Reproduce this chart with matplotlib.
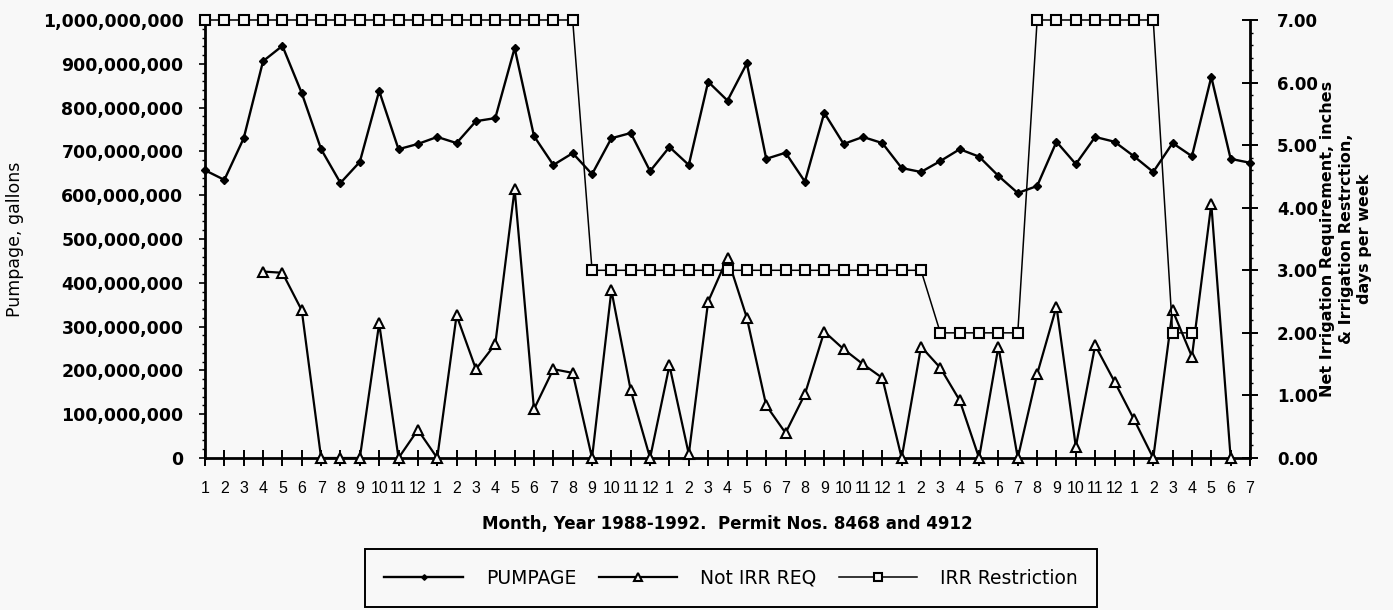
import numpy as np
import matplotlib.pyplot as plt
from matplotlib.ticker import FuncFormatter, MultipleLocator

# month labels, Jan 1988 .. Jul 1992
months = [1, 2, 3, 4, 5, 6, 7, 8, 9, 10, 11, 12] * 4 + [1, 2, 3, 4, 5, 6, 7]

# pumpage, millions of gallons
pumpage = [657, 635, 730, 906, 941, 833, 705, 628, 676, 838, 705, 717,
           733, 719, 769, 776, 936, 735, 669, 696, 648, 730, 742, 655,
           710, 669, 859, 816, 901, 683, 697, 631, 788, 717, 733, 719,
           662, 653, 678, 705, 688, 644, 605, 621, 722, 671, 733, 722,
           689, 653, 719, 689, 870, 683, 674]

# net irrigation requirement, inches
net_irr_req = [np.nan, np.nan, np.nan, 2.98, 2.96, 2.36, 0, 0, 0, 2.15, 0, 0.45,
               0, 2.28, 1.42, 1.82, 4.30, 0.78, 1.42, 1.36, 0, 2.68, 1.08, 0,
               1.48, 0.06, 2.50, 3.20, 2.24, 0.84, 0.40, 1.02, 2.02, 1.74, 1.50, 1.28,
               0, 1.78, 1.44, 0.92, 0, 1.78, 0, 1.34, 2.42, 0.18, 1.80, 1.22,
               0.62, 0, 2.36, 1.62, 4.06, 0, np.nan]

# irrigation restriction, days per week
irr_restriction = [7] * 20 + [3] * 18 + [2] * 5 + [7] * 7 + [2] * 2 + [np.nan] * 3

bg = '#f8f8f8'
W, H = 1393, 610
fig = plt.figure(figsize=(W / 100, H / 100), dpi=100, facecolor=bg)
ax = fig.add_axes([205 / W, 152 / H, 1045 / W, 438 / H])
ax.set_facecolor(bg)
ax2 = ax.twinx()

x = np.arange(len(months))
l1, = ax.plot(x, np.array(pumpage) * 1e6, color='black', lw=1.7, marker='D',
              markersize=4, clip_on=False, zorder=3)
l2, = ax2.plot(x, net_irr_req, color='black', lw=1.6, marker='^', markersize=7.5,
               mfc=bg, mec='black', mew=1.5, clip_on=False, zorder=3)
l3, = ax2.plot(x, irr_restriction, color='black', lw=1.1, marker='s', markersize=7.5,
               mfc=bg, mec='black', mew=1.5, clip_on=False, zorder=4)

ax.set_xlim(0, len(months) - 1)
ax.set_ylim(0, 1e9)
ax2.set_ylim(0, 7)

for a in (ax, ax2):
    a.spines['top'].set_visible(False)
ax.spines['right'].set_visible(False)
ax2.spines['left'].set_visible(False)
ax2.spines['bottom'].set_visible(False)
ax.spines['left'].set_linewidth(2)
ax.spines['bottom'].set_linewidth(2)
ax2.spines['right'].set_linewidth(2)

ax.yaxis.set_major_locator(MultipleLocator(1e8))
ax.yaxis.set_minor_locator(MultipleLocator(2e7))
ax.yaxis.set_major_formatter(FuncFormatter(lambda v, p: f'{v:,.0f}'))
ax.tick_params(axis='y', which='major', direction='out', length=4, width=1.2, pad=11.5)
ax.tick_params(axis='y', which='minor', direction='out', length=2, width=1)
for t in ax.get_yticklabels():
    t.set_fontsize(12.5)
    t.set_fontweight('bold')

ax.set_xticks(x)
ax.set_xticklabels([str(m) for m in months], fontfamily='Liberation Sans', fontsize=11.5)
ax.tick_params(axis='x', direction='inout', length=11, width=1.4, pad=11)

ax2.yaxis.set_major_locator(MultipleLocator(1))
ax2.yaxis.set_minor_locator(MultipleLocator(0.2))
ax2.yaxis.set_major_formatter(FuncFormatter(lambda v, p: f'{v:.2f}'))
ax2.tick_params(axis='y', which='major', direction='inout', length=11, width=1.4, pad=14)
ax2.tick_params(axis='y', which='minor', direction='out', length=2, width=1)
for t in ax2.get_yticklabels():
    t.set_fontsize(12)
    t.set_fontweight('bold')

ax.set_ylabel('Pumpage, gallons', fontsize=12.5)
ax.yaxis.set_label_coords(-0.173, 0.5)
ax2.set_ylabel('Net Irrigation Requirement, inches\n& Irrigation Restrction,\ndays per week',
               fontsize=11.5, fontweight='bold', rotation=90, linespacing=1.3)
ax2.yaxis.set_label_coords(1.067, 0.5)

ax.set_xlabel('Month, Year 1988-1992.  Permit Nos. 8468 and 4912', fontsize=12,
              fontweight='bold', labelpad=14)

leg = fig.legend([l1, l2, l3], ['PUMPAGE', 'Not IRR REQ', 'IRR Restriction'],
                 loc='upper center', bbox_to_anchor=(731 / W, 1 - 549 / H), ncol=3,
                 numpoints=1, fontsize=13.5, frameon=True, fancybox=False,
                 edgecolor='black', facecolor=bg, framealpha=1,
                 handlelength=4.2, handletextpad=1.2, columnspacing=1.2,
                 borderpad=1.05, borderaxespad=0, markerscale=0.7)
leg.get_frame().set_linewidth(1.4)

fig.savefig('out.png', dpi=100, facecolor=bg)
